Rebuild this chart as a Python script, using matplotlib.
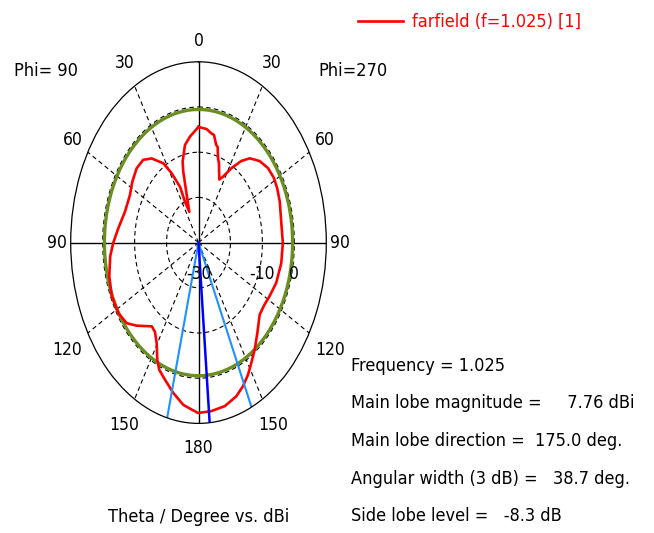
import os
import numpy as np
import matplotlib
matplotlib.use('Agg')
import matplotlib.pyplot as plt
from matplotlib import font_manager
from matplotlib.font_manager import FontProperties

# farfield cut, angle clockwise from top (deg) and gain (dBi)
angle = [0.0, 5.8, 9.4, 11.5, 14.4, 15.8, 18.2, 20.0, 25.0, 27.8, 32.0, 36.6,
         40.7, 46.7, 52.9, 58.9, 64.1, 70.4, 79.9, 90.2, 99.9, 110.1, 118.1,
         123.5, 129.7, 137.4, 143.4, 148.2, 152.1, 156.4, 160.8, 167.2, 173.9,
         180.2, 183.3, 187.6, 193.3, 199.1, 203.6, 206.4, 210.5, 214.6, 218.3,
         226.5, 231.6, 238.2, 246.4, 255.1, 263.7, 269.8, 277.2, 286.6, 296.1,
         303.0, 310.3, 316.6, 321.8, 327.9, 331.3, 334.9, 334.9, 337.2, 340.2,
         343.1, 344.5, 348.9, 353.5, 360.0]
gain = [-4.4, -4.75, -5.5, -5.7, -7.7, -8.0, -10.4, -11.3, -14.6, -13.5, -10.6,
        -7.5, -5.4, -3.7, -2.7, -2.4, -2.6, -3.0, -3.7, -3.6, -3.7, -4.1, -4.8,
        -5.2, -5.1, -2.8, -0.5, 1.35, 3.1, 4.7, 6.0, 7.1, 7.5, 7.7, 7.0, 6.2,
        4.2, 2.1, 0.7, -1.0, -4.2, -6.0, -6.4, -3.3, -1.3, -0.45, -0.4, -1.1,
        -2.2, -3.3, -4.7, -6.0, -6.1, -5.3, -4.6, -4.8, -6.3, -9.3, -12.5,
        -16.4, -20.0, -22.6, -19.6, -13.6, -11.4, -8.0, -6.4, -4.4]

frequency = 1.025
main_mag = 7.76
main_dir = 175.0
hp_angles = [155.5, 194.2]
ang_width = 38.7
side_lobe = -8.3

r_min, r_max = -30, 10
rings = [-20, -10, 0]
theta_ticks = [0, 30, 60, 90, 120, 150, 180]

# narrow sans face, the original uses a condensed font
pref = ['dejavusanscondensed', 'dejavu sans condensed']
found = None
for p in pref:
    for f in font_manager.fontManager.ttflist:
        key = (f.name + ' ' + os.path.basename(f.fname)).lower()
        if p in key and not any(w in key for w in
                                ['bold', 'italic', 'oblique', 'light', 'thin',
                                 'medium', 'semi', 'black', 'extra']):
            found = f.fname
            break
    if found:
        break

if found:
    fp = FontProperties(fname=found, size=13)
    fp_tick = FontProperties(fname=found, size=12.5)
else:
    fp = FontProperties(family='Liberation Sans', size=13.4)
    fp_tick = FontProperties(family='Liberation Sans', size=12.8)

W, H = 654, 533
fig = plt.figure(figsize=(W / 100, H / 100), dpi=100)
cx, cy, rx, ry = 198.5, 242.6, 127.8, 180.8
ax = fig.add_axes([(cx - rx) / W, (H - cy - ry) / H, 2 * rx / W, 2 * ry / H],
                  projection='polar')
ax.set_theta_zero_location('N')
ax.set_theta_direction(-1)
ax.set_ylim(r_min, r_max)
ax.set_aspect('auto')
ax.grid(False)
ax.set_xticks([])
ax.set_yticks([])
ax.spines['polar'].set_linewidth(0.9)
ax.spines['polar'].set_color('black')

t = np.linspace(0, 2 * np.pi, 361)
for rv in rings:
    ax.plot(t, np.full_like(t, rv), color='k', lw=0.8, dashes=(4, 3))
for a in range(0, 360, 30):
    if a % 90 == 0:
        ax.plot([np.radians(a)] * 2, [r_min, r_max], color='k', lw=1.0)
    else:
        ax.plot([np.radians(a)] * 2, [r_min, r_max], color='k', lw=0.8, dashes=(4, 3))

# side lobe level circle
ax.plot(t, np.full_like(t, main_mag + side_lobe), color='#6B8E23', lw=2.4)

line, = ax.plot(np.radians(angle), gain, color='#FF0000', lw=1.9)

for a in hp_angles:
    ax.plot([np.radians(a)] * 2, [r_min, r_max], color='#1E90FF', lw=1.5)
ax.plot([np.radians(main_dir)] * 2, [r_min, r_max], color='#0000FF', lw=1.8)

# angle labels
lab_r = {0: 14.6, 30: 16.0, 60: 15.6, 90: 14.2, 120: 17.4, 150: 16.5, 180: 15.4}
for th in theta_ticks:
    for a in {th, (360 - th) % 360}:
        ax.text(np.radians(a), lab_r[th], str(th), ha='center', va='center',
                clip_on=False, fontproperties=fp_tick)

# radial labels
for rv, txt in [(r_min, '-30'), (-10, '-10'), (0, '0')]:
    ax.annotate(txt, xy=(np.radians(90), rv), xytext=(0, -31),
                textcoords='offset pixels', ha='center', va='center',
                fontproperties=fp_tick)

fig.text(14 / W, 1 - 71 / H, 'Phi= 90', ha='left', va='center', fontproperties=fp)
fig.text(318 / W, 1 - 71 / H, 'Phi=270', ha='left', va='center', fontproperties=fp)
fig.text(cx / W, 1 - 522 / H, 'Theta / Degree vs. dBi', ha='center',
         va='baseline', fontproperties=fp)

info = ['Frequency = %.3f' % frequency,
        'Main lobe magnitude =     %.2f dBi' % main_mag,
        'Main lobe direction =  %.1f deg.' % main_dir,
        'Angular width (3 dB) =   %.1f deg.' % ang_width,
        'Side lobe level =   %.1f dB' % side_lobe]
for i, s in enumerate(info):
    fig.text(351 / W, 1 - (371 + 37.5 * i) / H, s, ha='left', va='baseline',
             fontproperties=fp)

fig.legend([line], ['farfield (f=%.3f) [1]' % frequency], loc='center left',
           bbox_to_anchor=(358 / W, 1 - 22 / H), frameon=False, borderpad=0,
           borderaxespad=0, handlelength=2.5, handletextpad=0.5,
           labelcolor='#FF0000', prop=fp)

fig.savefig('out.png', dpi=100, facecolor='white')
